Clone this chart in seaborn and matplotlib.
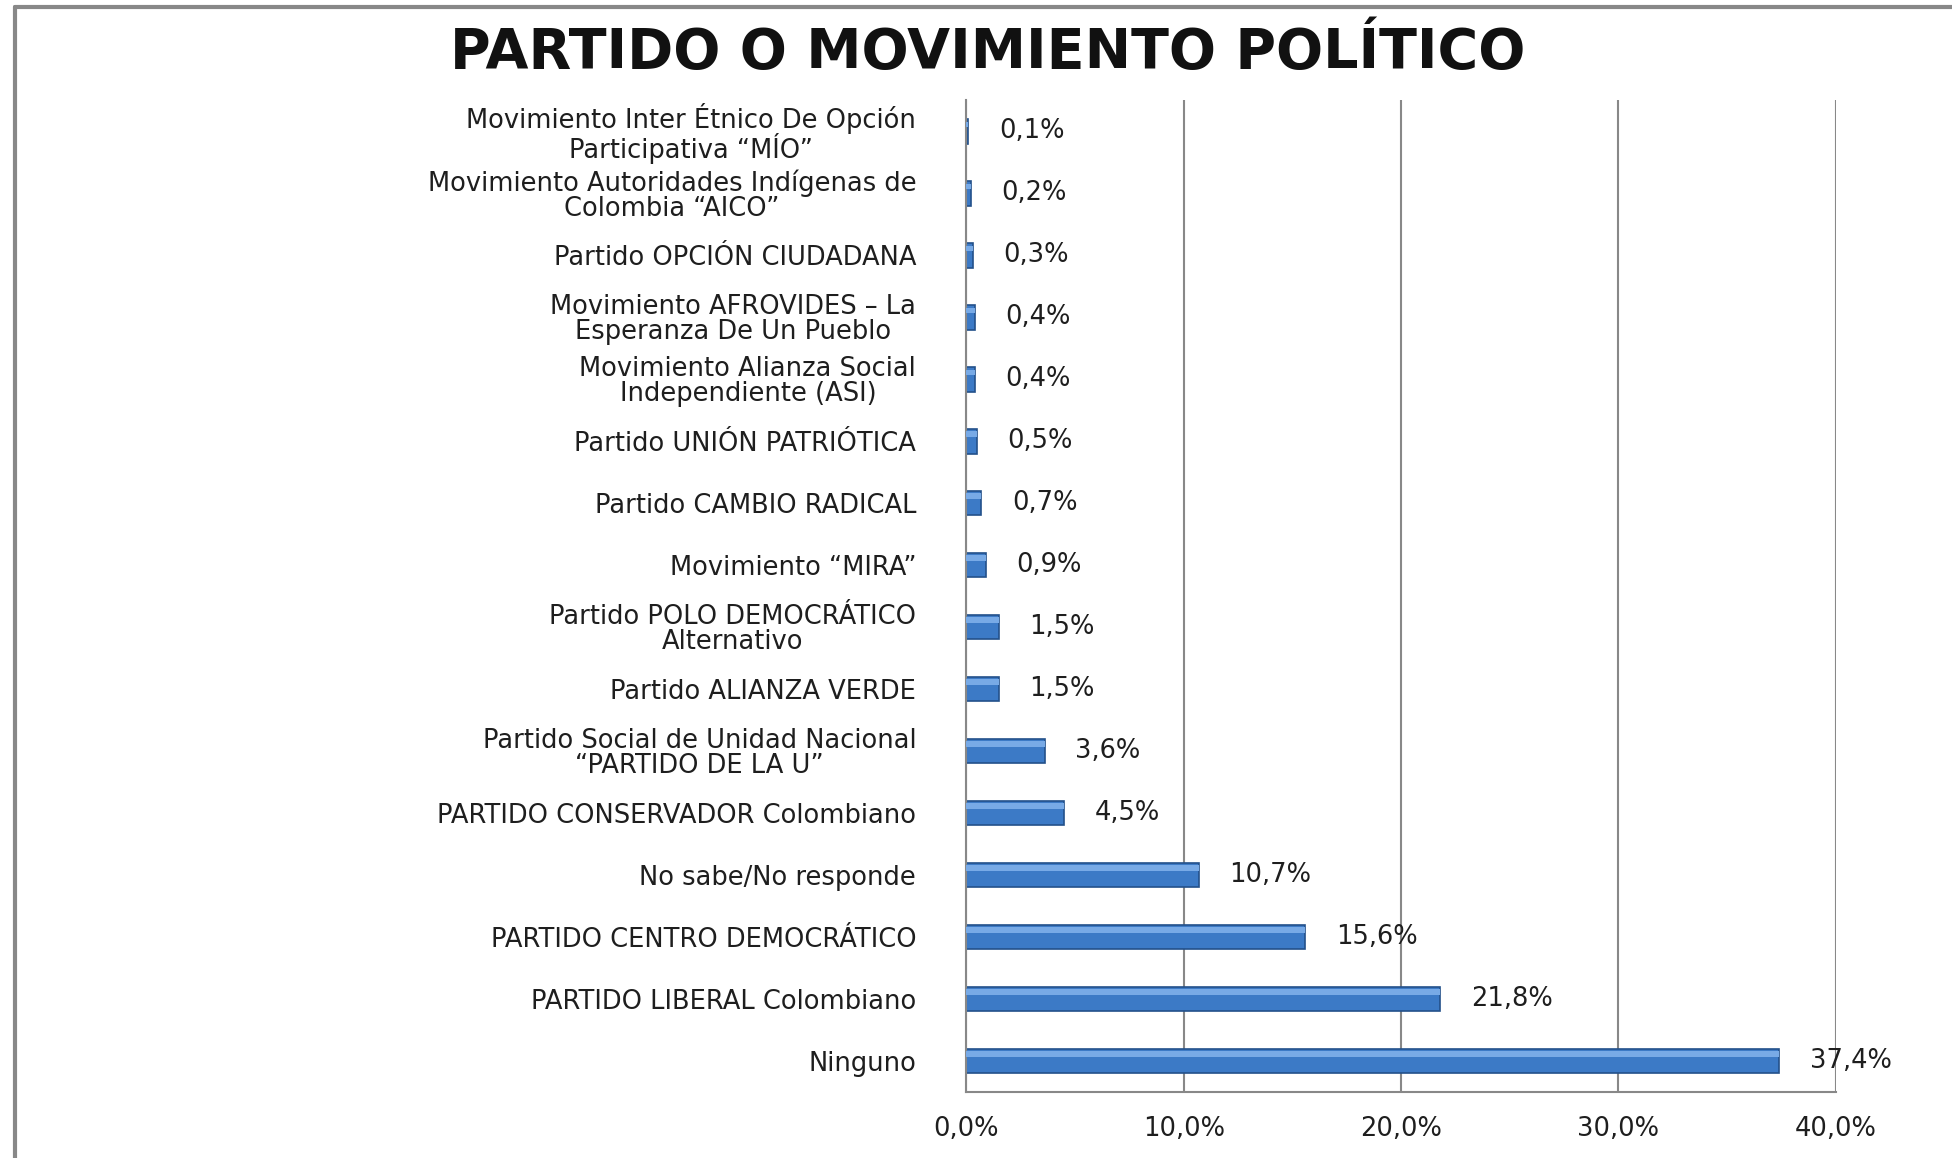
import numpy as np
import pandas as pd
import matplotlib
matplotlib.use("Agg")
import matplotlib.pyplot as plt
import seaborn as sns
from matplotlib.ticker import FixedLocator, FuncFormatter

partidos = [
    "Movimiento Inter Étnico De Opción\nParticipativa “MÍO”",
    "Movimiento Autoridades Indígenas de\nColombia “AICO”",
    "Partido OPCIÓN CIUDADANA",
    "Movimiento AFROVIDES – La\nEsperanza De Un Pueblo",
    "Movimiento Alianza Social\nIndependiente (ASI)",
    "Partido UNIÓN PATRIÓTICA",
    "Partido CAMBIO RADICAL",
    "Movimiento “MIRA”",
    "Partido POLO DEMOCRÁTICO\nAlternativo",
    "Partido ALIANZA VERDE",
    "Partido Social de Unidad Nacional\n“PARTIDO DE LA U”",
    "PARTIDO CONSERVADOR Colombiano",
    "No sabe/No responde",
    "PARTIDO CENTRO DEMOCRÁTICO",
    "PARTIDO LIBERAL Colombiano",
    "Ninguno",
]
porcentajes = [0.1, 0.2, 0.3, 0.4, 0.4, 0.5, 0.7, 0.9, 1.5, 1.5, 3.6, 4.5, 10.7, 15.6, 21.8, 37.4]
x_ticks = [0, 10, 20, 30, 40]

df = pd.DataFrame({"partido": partidos, "pct": porcentajes})

sns.set_style("white")
plt.rcParams["font.family"] = ["DejaVu Sans"]
txt_color = "#1e1e1e"
fs = 18.5

fig = plt.figure(figsize=(19.52, 11.58), dpi=100)
ax = fig.add_axes([0.495, 0.057, 0.4455, 0.8565])

sns.barplot(data=df, x="pct", y="partido", orient="h", color="#3C7AC6",
            edgecolor="#23508A", linewidth=1.2, width=0.4, saturation=1, ax=ax)
# light highlight on the upper part of each bar
ax.barh(np.arange(len(porcentajes)) - 0.11, porcentajes, height=0.09,
        color="#78AAE6", linewidth=0, zorder=3)

ax.bar_label(ax.containers[0],
             labels=[f"{v:.1f}".replace(".", ",") + "%" for v in porcentajes],
             padding=22, fontsize=fs, color=txt_color)

ax.set_xlim(0, 40)
ax.set_ylim(len(partidos) - 0.5, -0.5)
ax.set_xticks(x_ticks)
ax.xaxis.set_major_formatter(FuncFormatter(lambda v, p: f"{v:.1f}".replace(".", ",") + "%"))
ax.yaxis.set_minor_locator(FixedLocator(np.arange(-0.5, len(partidos), 1)))
ax.tick_params(axis="y", which="major", length=0, pad=36, labelsize=fs, labelcolor=txt_color)
ax.tick_params(axis="y", which="minor", length=9, width=1.2, color="#888888", direction="out")
ax.tick_params(axis="x", length=9, width=1.2, color="#888888", direction="out",
               labelsize=fs, labelcolor=txt_color, pad=8)
for lab in ax.get_yticklabels():
    lab.set_horizontalalignment("right")
    lab.set_multialignment("center")
    lab.set_linespacing(0.95)

ax.grid(axis="x", color="#888888", linewidth=1.5)
ax.set_axisbelow(True)
for s in ["top", "right"]:
    ax.spines[s].set_visible(False)
for s in ["left", "bottom"]:
    ax.spines[s].set_color("#888888")
    ax.spines[s].set_linewidth(1.5)
ax.set_xlabel("")
ax.set_ylabel("")

fig.text(0.506, 0.954, "PARTIDO O MOVIMIENTO POLÍTICO", ha="center", va="center",
         fontsize=40, fontweight="bold", color="#111111")

# outer frame (left and top)
fig.add_artist(plt.Line2D([15 / 1952, 15 / 1952], [0, 1 - 7 / 1158], color="#888888", linewidth=3))
fig.add_artist(plt.Line2D([15 / 1952, 1], [1 - 7 / 1158, 1 - 7 / 1158], color="#888888", linewidth=3))

fig.savefig("out.png", dpi=100, facecolor="white")
